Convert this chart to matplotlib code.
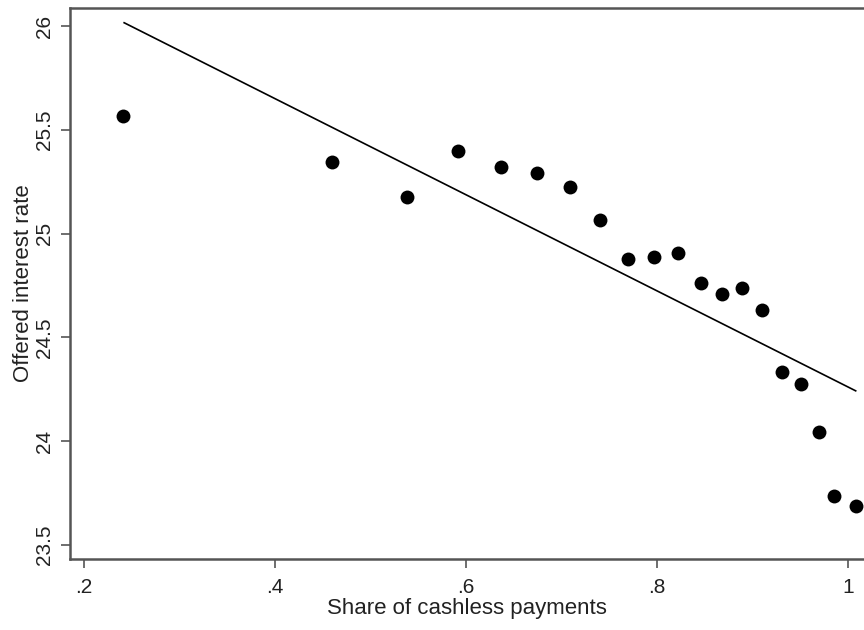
import matplotlib.pyplot as plt

plt.rcParams['font.family'] = ['Liberation Sans', 'DejaVu Sans']

# Binned means
share = [0.241, 0.460, 0.538, 0.592, 0.637, 0.674, 0.709, 0.740, 0.770, 0.797,
         0.822, 0.846, 0.868, 0.889, 0.910, 0.931, 0.951, 0.970, 0.985, 1.008]
rate = [25.566, 25.345, 25.176, 25.398, 25.321, 25.292, 25.224, 25.066, 24.878, 24.887,
        24.907, 24.762, 24.709, 24.738, 24.632, 24.333, 24.276, 24.044, 23.736, 23.688]

# Linear fit endpoints
fit_x = [0.242, 1.008]
fit_y = [26.016, 24.243]

xticks = [0.2, 0.4, 0.6, 0.8, 1.0]
xtick_labels = ['.2', '.4', '.6', '.8', '1']
yticks = [23.5, 24, 24.5, 25, 25.5, 26]
ytick_labels = ['23.5', '24', '24.5', '25', '25.5', '26']

fig = plt.figure(figsize=(8.64, 6.3), dpi=100)
ax = fig.add_axes([70 / 864, 1 - 559 / 630, 1 - 70 / 864, (559 - 8) / 630])

ax.scatter(share, rate, s=100, color='black', zorder=3, linewidths=0)
ax.plot(fit_x, fit_y, color='black', linewidth=1.2)

ax.set_xlim(0.1853, 0.1853 + 794 / 955)
ax.set_ylim(23.433, 26.087)

ax.set_xticks(xticks)
ax.set_xticklabels(xtick_labels)
ax.set_yticks(yticks)
ax.set_yticklabels(ytick_labels, rotation=90, va='center')

spine_col = '#555555'
for side in ['left', 'bottom', 'top']:
    ax.spines[side].set_color(spine_col)
    ax.spines[side].set_linewidth(1.8)
ax.spines['right'].set_visible(False)
ax.tick_params(colors=spine_col, labelcolor='#222222', labelsize=15, length=6.5, width=1.2)
ax.tick_params(axis='x', pad=7)
ax.tick_params(axis='y', pad=5)

ax.set_xlabel('Share of cashless payments', fontsize=16, color='#222222', labelpad=1)
ax.set_ylabel('Offered interest rate', fontsize=16, color='#222222', labelpad=1)

fig.savefig('out.png', dpi=100)
